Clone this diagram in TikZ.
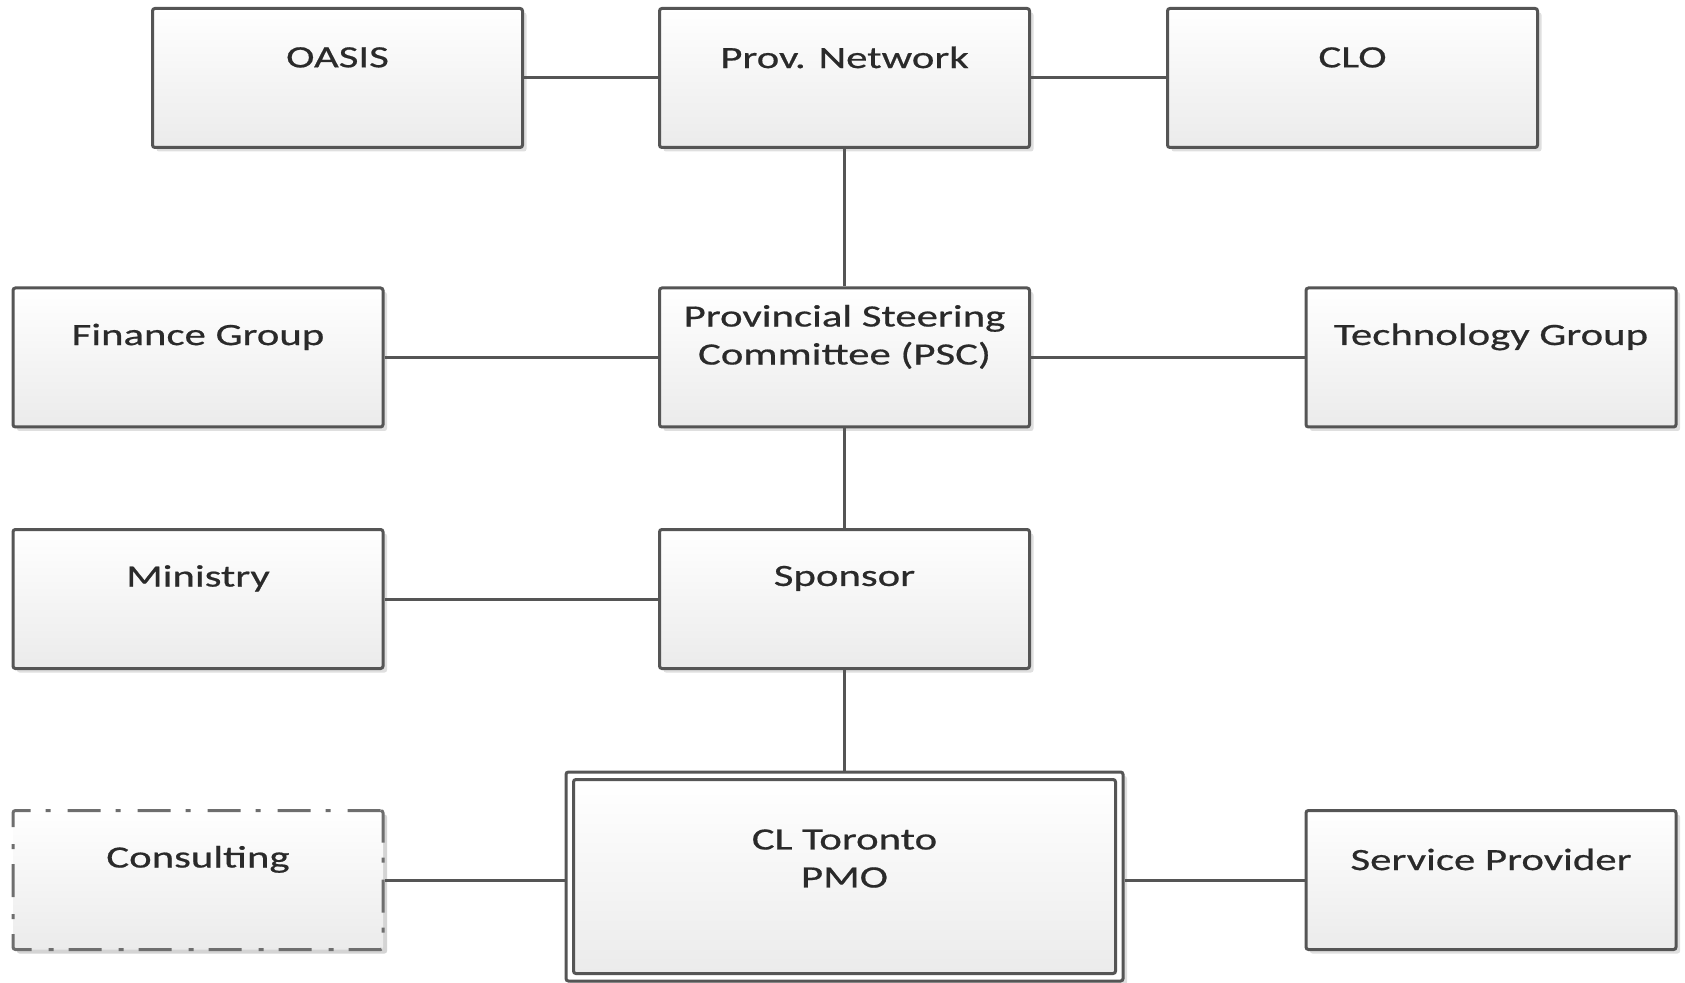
\documentclass[tikz,border=0pt]{standalone}
\usepackage{fontspec}
\setmainfont{Carlito}
\newfontfamily\boxfont{Carlito}[FakeStretch=1.38,FakeBold=0.6]
\usetikzlibrary{shadows,calc}
\definecolor{edgec}{HTML}{555555}
\definecolor{boxbot}{HTML}{EBEBEB}
\definecolor{txtc}{HTML}{2A2A2A}
\definecolor{dashc}{HTML}{6E6E6E}
\begin{document}
\begin{tikzpicture}[x=0.5pt,y=-0.5pt,
  box/.style={draw=edgec, line width=1.5pt, rounded corners=1.2pt,
    minimum width=185pt, minimum height=69.5pt, inner sep=0pt,
    top color=white, bottom color=boxbot,
    drop shadow={opacity=0.25, shadow xshift=2pt, shadow yshift=-2pt}},
  txt/.style={font=\boxfont\fontsize{15.5}{19}\selectfont, text=txtc, align=center},
  lbl/.style={txt, anchor=center, yshift=-25.2pt},
  link/.style={draw=edgec, line width=1.5pt}]
\useasboundingbox (0,0) rectangle (1685,983);

% top row
\node[box, label={[lbl]north:OASIS}] (oasis) at (337.5,78) {};
\node[box, label={[lbl]north:Prov. Network}] (prov) at (844.5,78) {};
\node[box, label={[lbl]north:CLO}] (clo) at (1352.5,78) {};

% second row
\node[box, label={[lbl]north:{Provincial Steering\\Committee (PSC)}}] (psc) at (844.5,357.5) {};
\node[box, label={[lbl]north:Finance Group}] (fin) at (198,357.5) {};
\node[box, label={[lbl]north:Technology Group}] (tech) at (1491,357.5) {};

% third row
\node[box, label={[lbl]north:Ministry}] (min) at (198,599) {};
\node[box, label={[lbl]north:Sponsor}] (spon) at (844.5,599) {};

% bottom row
\node[box, draw=dashc, dash pattern=on 16.5pt off 8.5pt on 2.5pt off 7.5pt,
  drop shadow={opacity=0.12, shadow xshift=2pt, shadow yshift=-2pt},
  label={[lbl]north:Consulting}] (cons) at (198,880) {};
\node[box, label={[lbl]north:Service Provider}] (serv) at (1491,880) {};

\node[box, minimum width=278.5pt, minimum height=104.5pt, fill=white,
  top color=white, bottom color=white] (pmo) at (844.5,876.5) {};
\draw[draw=edgec, line width=1.5pt, rounded corners=1.2pt, top color=white, bottom color=boxbot]
  ($(pmo.north west)+(9,9)$) rectangle ($(pmo.south east)+(-9,-9)$);
\node[txt] (pmotxt) at ($(pmo.north)+(0,88)$) {CL Toronto\\PMO};

% connectors
\draw[link] (oasis.east) -- (prov.west);
\draw[link] (prov.east) -- (clo.west);
\draw[link] (prov.south) -- (psc.north);
\draw[link] (fin.east) -- (psc.west);
\draw[link] (psc.east) -- (tech.west);
\draw[link] (psc.south) -- (spon.north);
\draw[link] (min.east) -- (spon.west);
\draw[link] (spon.south) -- (pmo.north);
\draw[link] (cons.east) -- (cons.east -| pmo.west);
\draw[link] (pmo.east |- serv.west) -- (serv.west);
\end{tikzpicture}
\end{document}
